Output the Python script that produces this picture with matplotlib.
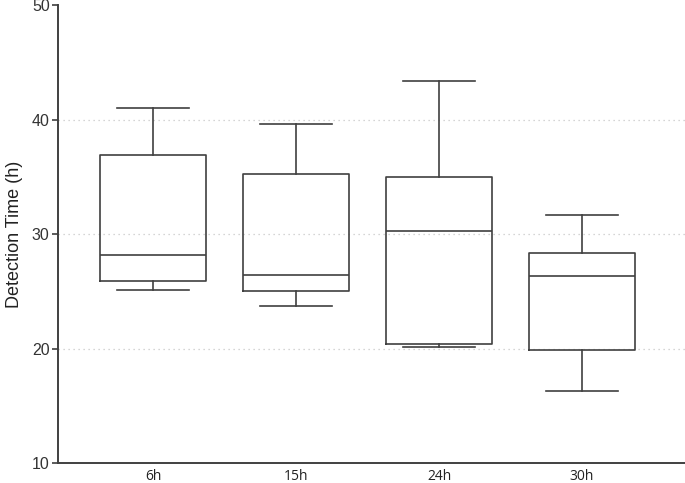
import matplotlib
matplotlib.use("Agg")
import matplotlib.pyplot as plt

# box statistics (hours)
groups = ["6h", "15h", "24h", "30h"]
whisker_low = [25.1, 23.7, 20.1, 16.3]
q1 = [25.9, 25.0, 20.4, 19.9]
median = [28.2, 26.4, 30.3, 26.35]
q3 = [36.9, 35.2, 35.0, 28.3]
whisker_high = [41.0, 39.6, 43.4, 31.65]

y_ticks = [10, 20, 30, 40, 50]

stats = []
for i in range(len(groups)):
    stats.append({"label": groups[i], "whislo": whisker_low[i], "q1": q1[i],
                  "med": median[i], "q3": q3[i], "whishi": whisker_high[i],
                  "fliers": []})

line_col = "#404040"
fig = plt.figure(figsize=(6.85, 4.83), dpi=100)
ax = fig.add_axes([0.0847, 0.0414, 0.9153, 0.9482])

props = dict(color=line_col, linewidth=1.2)
ax.bxp(stats, positions=[1, 2, 3, 4], widths=0.745, capwidths=0.5,
       showfliers=False, boxprops=props, whiskerprops=props,
       capprops=props, medianprops=props)

ax.set_xlim(0.336, 4.72)
ax.set_ylim(10, 50)
ax.set_yticks(y_ticks)
ax.set_yticklabels([str(t) for t in y_ticks], fontsize=11.5,
                   family="Liberation Sans", color="#333333")
ax.set_xticks([1, 2, 3, 4])
ax.set_xticklabels(groups, fontsize=10, family="Open Sans", color="#222222")
ax.tick_params(axis="x", length=0, pad=4)
ax.tick_params(axis="y", length=4, width=1.2, color=line_col, pad=2)

for g in [20, 30, 40]:
    ax.axhline(g, color="#c8c8c8", linestyle=(0, (1, 3)), linewidth=0.9, zorder=0)

ax.set_ylabel("Detection Time (h)", fontsize=13, family="Liberation Sans",
              color="#222222", labelpad=6)

for s in ["top", "right"]:
    ax.spines[s].set_visible(False)
for s in ["left", "bottom"]:
    ax.spines[s].set_color(line_col)
    ax.spines[s].set_linewidth(1.4)

fig.savefig("out.png", dpi=100)
